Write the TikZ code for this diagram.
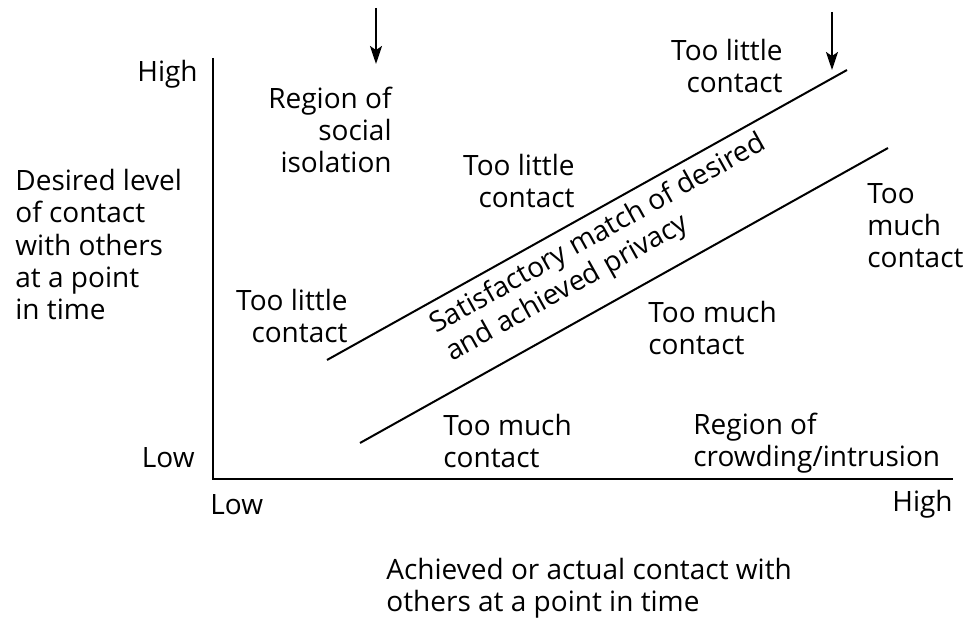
\documentclass[tikz,border=0pt]{standalone}
\usepackage{fontspec}
\setmainfont{Open Sans}
\usetikzlibrary{arrows.meta}

\begin{document}
\begin{tikzpicture}[x=0.5pt, y=-0.5pt,
    txt/.style={font=\fontsize{14}{16.2}\selectfont, inner sep=0pt},
    txtL/.style={txt, anchor=base west, align=left},
    txtR/.style={txt, anchor=base east, align=right},
    marker/.style={line width=1pt, -{Stealth[length=9pt, width=6pt, inset=2pt]}}]
  \useasboundingbox (0,0) rectangle (965,619);

  % Axes
  \coordinate (ytop) at (213,58);
  \coordinate (origin) at (213,479);
  \coordinate (xend) at (953,479);
  \draw[line width=1.3pt] (ytop) -- (origin) -- (xend);

  % Axis labels (multi-line nodes sit on the baseline of their last line)
  \node[txtR] (yhigh) at (198,82) {High};
  \node[txtR] (ylow) at (195,468) {Low};
  \node[txtL] (xlow) at (210,515) {Low};
  \node[txtR] (xhigh) at (953,512) {High};
  \node[txtL] (ylabel) at (15,320) {Desired level\\of contact\\with others\\at a point\\in time};
  \node[txtL] (xlabel) at (386,612) {Achieved or actual contact with\\others at a point in time};

  % Band of satisfactory match
  \coordinate (upA) at (327,360);
  \coordinate (upB) at (847,70);
  \coordinate (loA) at (360,443);
  \coordinate (loB) at (888,148);
  \draw[line width=1pt] (upA) -- (upB);
  \draw[line width=1pt] (loA) -- (loB);
  \node[txtL, rotate=29.2] (match) at (452,362) {Satisfactory match of desired\\and achieved privacy};

  % Markers
  \coordinate (isoTop) at (376,8);
  \coordinate (isoTip) at (376,64);
  \coordinate (crowdTop) at (832,12);
  \coordinate (crowdTip) at (832,70);
  \draw[marker] (isoTop) -- (isoTip);
  \draw[marker] (crowdTop) -- (crowdTip);

  % Regions
  \node[txtR] (isolation) at (392,173) {Region of\\social\\isolation};
  \node[txtR] (littleLeft) at (348,343) {Too little\\contact};
  \node[txtR] (littleMid) at (575,208) {Too little\\contact};
  \node[txtR] (littleTop) at (783,93) {Too little\\contact};
  \node[txtL] (muchMid) at (648,355) {Too much\\contact};
  \node[txtL] (muchRight) at (867,268) {Too\\much\\contact};
  \node[txtL] (muchLow) at (443,468) {Too much\\contact};
  \node[txtL] (crowding) at (693,467) {Region of\\crowding/intrusion};
\end{tikzpicture}
\end{document}
